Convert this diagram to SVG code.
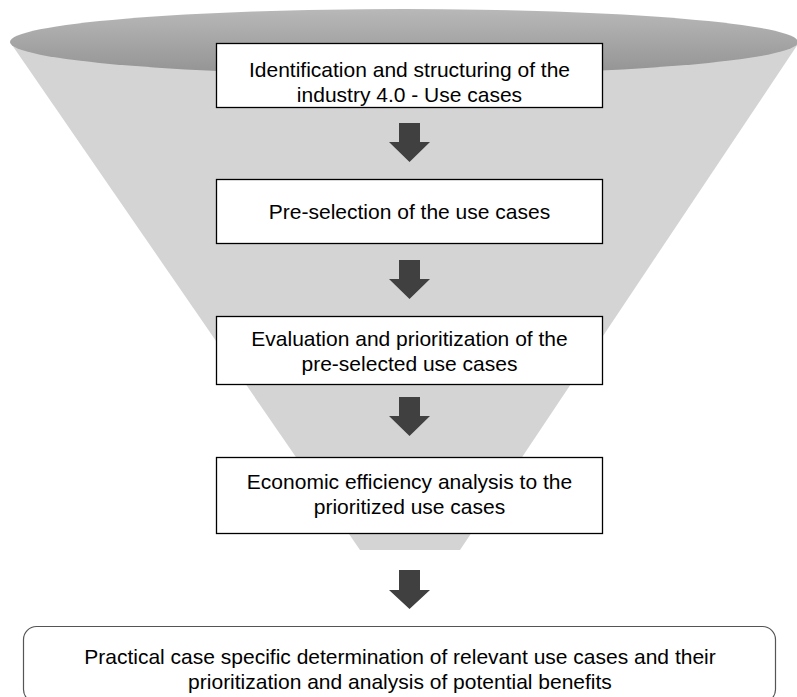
<svg xmlns="http://www.w3.org/2000/svg" width="797" height="697" viewBox="0 0 797 697">
  <defs>
    <linearGradient id="topGrad" x1="0" y1="0" x2="0" y2="1">
      <stop offset="0" stop-color="#b8b8b8"/>
      <stop offset="1" stop-color="#939393"/>
    </linearGradient>
    <style>
      .box { fill: #ffffff; stroke: #000000; stroke-width: 1.3; }
      .final { fill: #ffffff; stroke: #555555; stroke-width: 1.2; }
      .arrow { fill: #404040; }
      text { font-family: "Liberation Sans", Arial, sans-serif; font-size: 21px; fill: #000000; text-anchor: middle; }
    </style>
  </defs>
  <rect width="797" height="697" fill="#ffffff"/>
  <g id="funnel">
    <polygon points="10,42 798,44 460,550 360,550" fill="#d4d4d4"/>
    <ellipse cx="404" cy="42" rx="394" ry="33" fill="url(#topGrad)"/>
  </g>
  <g id="connectors">
    <polygon class="arrow" points="399,123 420,123 420,142 430,142 409.5,162 389,142 399,142"/>
    <polygon class="arrow" points="399,260 420,260 420,279 430,279 409.5,299 389,279 399,279"/>
    <polygon class="arrow" points="399,397 420,397 420,416 430,416 409.5,436 389,416 399,416"/>
    <polygon class="arrow" points="399,570 420,570 420,590 430,590 409.5,609 389,590 399,590"/>
  </g>
  <g id="node1">
    <rect class="box" x="216.5" y="43.5" width="386" height="64"/>
    <text x="409.5" y="77">Identification and structuring of the</text>
    <text x="409.5" y="102">industry 4.0 - Use cases</text>
  </g>
  <g id="node2">
    <rect class="box" x="216.5" y="179.5" width="386" height="64"/>
    <text x="409.5" y="219">Pre-selection of the use cases</text>
  </g>
  <g id="node3">
    <rect class="box" x="216.5" y="316.5" width="386" height="68"/>
    <text x="409.5" y="346">Evaluation and prioritization of the</text>
    <text x="409.5" y="371">pre-selected use cases</text>
  </g>
  <g id="node4">
    <rect class="box" x="216.5" y="457.5" width="386" height="76"/>
    <text x="409.5" y="489">Economic efficiency analysis to the</text>
    <text x="409.5" y="514">prioritized use cases</text>
  </g>
  <g id="node5">
    <rect class="final" x="23.5" y="626.5" width="752" height="76" rx="13"/>
    <text x="400" y="664">Practical case specific determination of relevant use cases and their</text>
    <text x="400" y="689">prioritization and analysis of potential benefits</text>
  </g>
</svg>
